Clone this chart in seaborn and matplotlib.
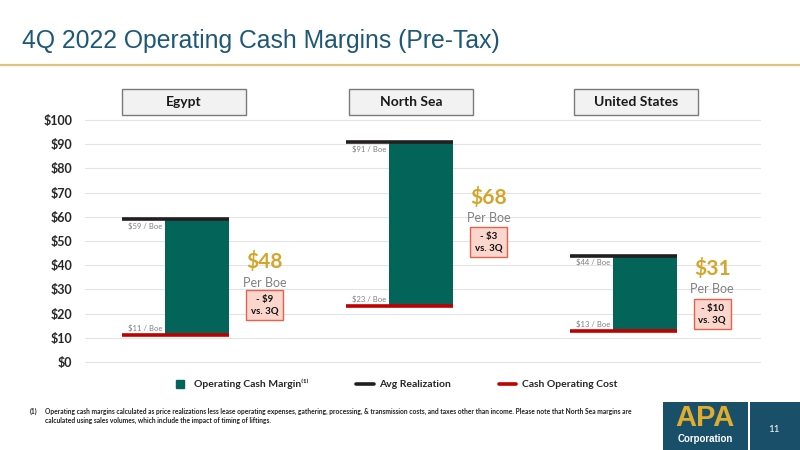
#---------------------------- pacotes ------------------------------------
import numpy as np
import pandas as pd
import matplotlib.pyplot as plt
import matplotlib.patches as mpatches
from matplotlib.lines import Line2D
import seaborn as sns

#---------------------------- dados do gráfico ---------------------------
regioes = ["Egypt", "North Sea", "United States"]
realizacao = [59, 91, 44]      # Avg Realization ($/Boe)
custo = [11, 23, 13]           # Cash Operating Cost ($/Boe)
margem = [48, 68, 31]          # Operating Cash Margin ($/Boe)
variacao = ["- $9", "- $3", "- $10"]
yticks = list(range(0, 101, 10))
ytick_labels = [f"${v}" for v in yticks]

# posições verticais dos textos de destaque (em $)
y_valor = [41.5, 67.8, 38.8]
y_perboe = [32.6, 59.5, 30.2]
y_caixa = [23.5, 49.6, 19.8]

#---------------------------- estilo -------------------------------------
sns.set_theme(style="white")
plt.rcParams['font.family'] = ['Lato', 'DejaVu Sans']

verde = "#03645a"
preto = "#231f20"
vermelho = "#c00000"
dourado = "#d4a52a"
cinza = "#7f7f7f"
azul_titulo = "#1d5876"

fig = plt.figure(figsize=(8, 4.5), dpi=100)
ax = fig.add_axes([85/800, 1-362/450, 675/800, 242/450])

grupos = np.arange(len(regioes))
larg_linha = 0.478
larg_barra = 0.286
desloc = larg_linha/2 - larg_barra/2

df = pd.DataFrame({"pos": grupos + desloc, "margem": margem, "custo": custo})
sns.barplot(data=df, x="pos", y="margem", bottom=df["custo"].values, native_scale=True,
            width=larg_barra, color=verde, saturation=1, linewidth=0, ax=ax, zorder=2)

ax.hlines(realizacao, grupos - larg_linha/2, grupos + larg_linha/2, color=preto, lw=2.6, zorder=3)
ax.hlines(custo, grupos - larg_linha/2, grupos + larg_linha/2, color=vermelho, lw=2.6, zorder=3)

ax.set_xlim(-0.404, 2.61)
ax.set_ylim(0, 100)
ax.set_yticks(yticks)
ax.set_yticklabels(ytick_labels, fontsize=9, fontweight='bold', color="#262626")
ax.tick_params(axis='y', length=0, pad=9)
ax.set_xticks([])
ax.set_xlabel("")
ax.set_ylabel("")
for s in ax.spines.values():
    s.set_visible(False)
for v in yticks:
    ax.axhline(v, color="#e3e3e3", lw=0.8, zorder=0, clip_on=False)

for i in grupos:
    esq_barra = i + desloc - larg_barra/2
    dir_barra = i + larg_linha/2
    ax.text(esq_barra - 0.012, realizacao[i] - 1.4, f"${realizacao[i]} / Boe", ha='right', va='top',
            fontsize=5.5, color=cinza)
    ax.text(esq_barra - 0.012, custo[i] + 1.2, f"${custo[i]} / Boe", ha='right', va='bottom',
            fontsize=5.5, color=cinza)
    xc = dir_barra + 0.158
    ax.text(xc, y_valor[i], f"${margem[i]}", ha='center', va='center', fontsize=15,
            fontweight='bold', color=dourado)
    ax.text(xc, y_perboe[i], "Per Boe", ha='center', va='center', fontsize=9, color="#808080")
    ax.text(xc, y_caixa[i], f"{variacao[i]}\nvs. 3Q", ha='center', va='center', fontsize=7,
            fontweight='bold', color="#111111", linespacing=1.3,
            bbox=dict(boxstyle='square,pad=0.5', fc="#fbd6cc", ec="#e8604c", lw=1))

#---------------------------- cabeçalhos das regiões ----------------------
caixas_x = [122, 349, 574]
for nome, x0 in zip(regioes, caixas_x):
    fig.patches.append(mpatches.Rectangle((x0/800, 1-115/450), 124/800, 26/450,
                                          transform=fig.transFigure, fc="#f2f2f2",
                                          ec="#7a7a7a", lw=1))
    fig.text((x0+62)/800, 1-102/450, nome, ha='center', va='center', fontsize=10,
             fontweight='bold', color="#1a1a1a")

#---------------------------- título ---------------------------------------
fig.text(22/800, 1-41/450, "4Q 2022 Operating Cash Margins (Pre-Tax)", ha='left', va='center',
         fontsize=17.8, color=azul_titulo, family=['Liberation Sans', 'DejaVu Sans'])
fig.add_artist(Line2D([0, 1], [1-65/450, 1-65/450], color="#e2c27a", lw=1.6,
                      transform=fig.transFigure))

#---------------------------- legenda -------------------------------------
alcas = [Line2D([], [], marker='s', ls='', color=verde, markersize=6),
         Line2D([], [], color=preto, lw=2.6),
         Line2D([], [], color=vermelho, lw=2.6)]
nomes = ["Operating Cash Margin⁽¹⁾", "Avg Realization", "Cash Operating Cost"]
fig.legend(alcas, nomes, loc='center', bbox_to_anchor=(394/800, 1-384/450), ncol=3,
           frameon=False, columnspacing=4.6, handlelength=1.7, handletextpad=0.5,
           prop={'weight': 'bold', 'size': 7.5})

#---------------------------- nota de rodapé ------------------------------
fig.text(30/800, 1-411/450, "(1)", fontsize=4.8, fontweight='bold', va='center', color="#222222")
fig.text(45/800, 1-411/450,
         "Operating cash margins calculated as price realizations less lease operating expenses, "
         "gathering, processing, & transmission costs, and taxes other than income. Please note that "
         "North Sea margins are", fontsize=4.8, fontweight='bold', va='center', color="#222222")
fig.text(45/800, 1-420/450, "calculated using sales volumes, which include the impact of timing of liftings.",
         fontsize=4.8, fontweight='bold', va='center', color="#222222")

#---------------------------- logotipo e página ---------------------------
fig.patches.append(mpatches.Rectangle((663/800, 0), 85/800, 48/450, transform=fig.transFigure,
                                      fc="#1a4f6a", ec='none'))
fig.patches.append(mpatches.Rectangle((750/800, 0), 50/800, 48/450, transform=fig.transFigure,
                                      fc="#1a4f6a", ec='none'))
fig.text(705/800, 1-418/450, "APA", ha='center', va='center', fontsize=21, fontweight='heavy',
         color="#e1ad2b", family=['Liberation Sans', 'DejaVu Sans'])
fig.text(705/800, 1-439/450, "Corporation", ha='center', va='center', fontsize=7,
         fontweight='bold', color="white", family=['Liberation Sans', 'DejaVu Sans'])
fig.text(774/800, 1-430/450, "11", ha='center', va='center', fontsize=7, color="white")

fig.savefig("out.png", dpi=100)
